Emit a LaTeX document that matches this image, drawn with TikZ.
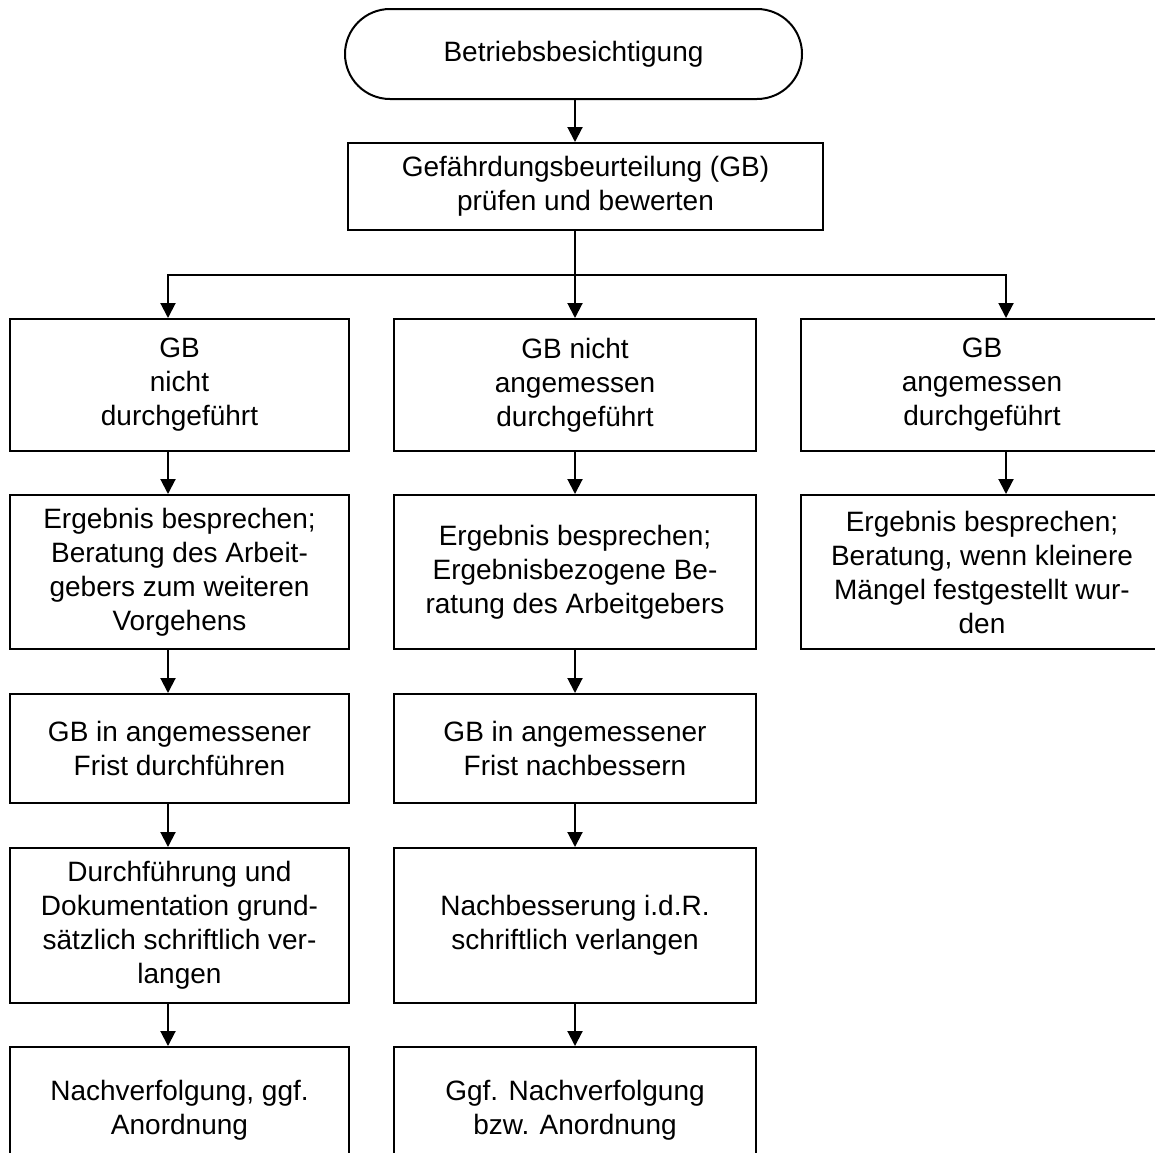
\documentclass[tikz,border=0pt]{standalone}
\usepackage{fontspec}
\setmainfont{Liberation Sans}
\usetikzlibrary{arrows.meta}

\begin{document}
\begin{tikzpicture}[x=1pt,y=-1pt,
  box/.style={draw,rectangle,line width=2pt,inner sep=0pt,align=center,
    font=\fontsize{28}{34}\selectfont},
  arr/.style={line width=2pt,-{Triangle[length=15pt,width=15pt]}}]
\path[use as bounding box,clip] (0,0) rectangle (1155,1152);
\coordinate (colA) at (168,0);
\coordinate (colB) at (575,0);
\coordinate (colC) at (1006,0);
\coordinate (split) at (575,275);
% top
\node [box,rounded corners=45pt,minimum width=457pt,minimum height=90pt] (start) at (573.5,54) {Betriebsbesichtigung};
\node [box,minimum width=475pt,minimum height=87pt] (check) at (585.5,186.5) {Gefährdungsbeurteilung (GB)\\prüfen und bewerten};
% left column
\node [box,minimum width=339pt,minimum height=132pt] (a1) at (179.5,385) {GB\\nicht\\durchgeführt};
\node [box,minimum width=339pt,minimum height=154pt] (a2) at (179.5,572) {Ergebnis besprechen;\\Beratung des Arbeit-\\gebers zum weiteren\\Vorgehens};
\node [box,minimum width=339pt,minimum height=109pt] (a3) at (179.5,748.5) {GB in angemessener\\Frist durchführen};
\node [box,minimum width=339pt,minimum height=155pt] (a4) at (179.5,925.5) {Durchführung und\\Dokumentation grund-\\sätzlich schriftlich ver-\\langen};
\node [box,minimum width=339pt,minimum height=126pt] (a5) at (179.5,1110) {Nachverfolgung, ggf.\\Anordnung};
% middle column
\node [box,minimum width=362pt,minimum height=132pt] (b1) at (575,385) {GB nicht\\angemessen\\durchgeführt};
\node [box,minimum width=362pt,minimum height=154pt] (b2) at (575,572) {Ergebnis besprechen;\\Ergebnisbezogene Be-\\ratung des Arbeitgebers};
\node [box,minimum width=362pt,minimum height=109pt] (b3) at (575,748.5) {GB in angemessener\\Frist nachbessern};
\node [box,minimum width=362pt,minimum height=155pt] (b4) at (575,925.5) {Nachbesserung i.d.R.\\schriftlich verlangen};
\node [box,minimum width=362pt,minimum height=126pt] (b5) at (575,1110) {Ggf. Nachverfolgung\\bzw. Anordnung};
% right column
\node [box,minimum width=362pt,minimum height=132pt] (c1) at (982,385) {GB\\angemessen\\durchgeführt};
\node [box,minimum width=362pt,minimum height=154pt] (c2) at (982,572) {Ergebnis besprechen;\\Beratung, wenn kleinere\\Mängel festgestellt wur-\\den};
% arrows
\draw [arr] (start.south -| colB) -- (check.north -| colB);
\draw [line width=2pt] (check.south -| colB) -- (split);
\draw [arr] (split) -| (a1.north -| colA);
\draw [arr] (split) -| (c1.north -| colC);
\draw [arr] (split) -- (b1.north);
\foreach \i/\j in {1/2,2/3,3/4,4/5}
{ \draw [arr] (a\i.south -| colA) -- (a\j.north -| colA);
  \draw [arr] (b\i.south) -- (b\j.north);}
\draw [arr] (c1.south -| colC) -- (c2.north -| colC);
\end{tikzpicture}
\end{document}
